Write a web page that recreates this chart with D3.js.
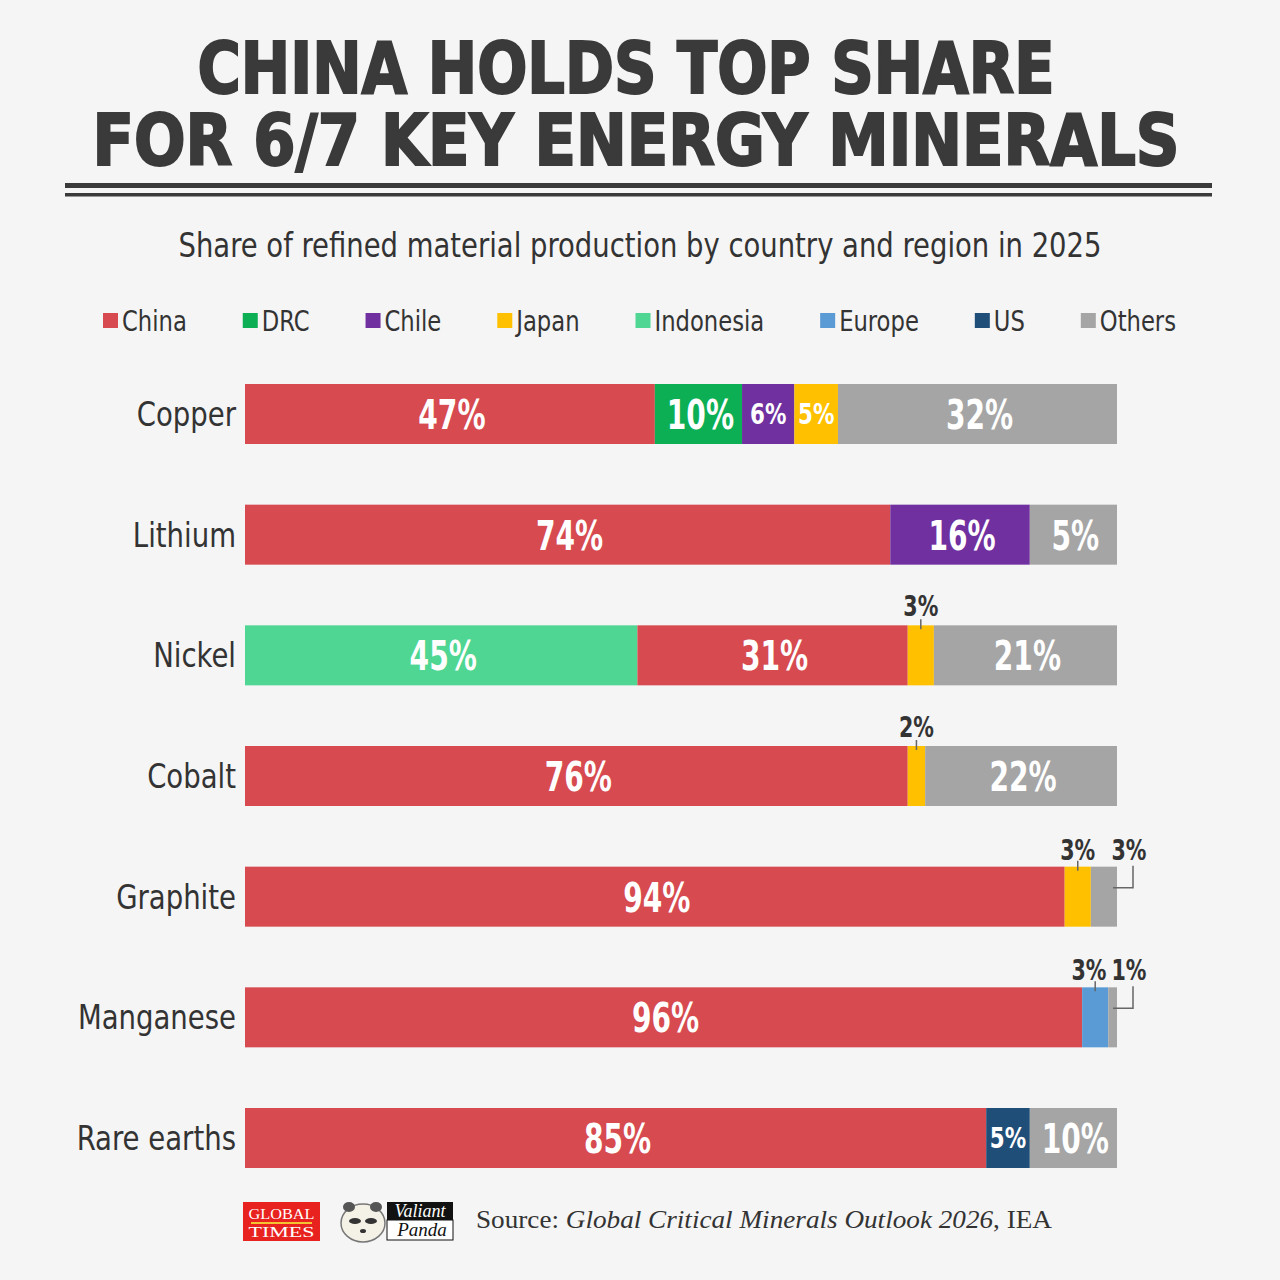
<!doctype html>
<html>
<head>
<meta charset="UTF-8">
<title>China holds top share</title>
<script src="https://cdn.jsdelivr.net/npm/d3@7"></script>
<style>
    body { margin: 0; background: #f5f5f5; }
    .cond { font-family: "DejaVu Sans Condensed", "Liberation Sans Narrow", "DejaVu Sans", sans-serif; font-stretch: condensed; }
    .serif { font-family: "Liberation Serif", "DejaVu Serif", serif; }
</style>
</head>
<body>
<script>
    // data
    var minerals = ["Copper", "Lithium", "Nickel", "Cobalt", "Graphite", "Manganese", "Rare earths"];
    var series = ["China", "DRC", "Chile", "Japan", "Indonesia", "Europe", "US", "Others"];
    var colors = ["#d64a50", "#0daf55", "#7030a0", "#ffc000", "#4fd693", "#5b9bd5", "#1f4e79", "#a5a5a5"];

    // [series, drawn share, printed label if different]
    var copper = [["China", 47], ["DRC", 10], ["Chile", 6], ["Japan", 5], ["Others", 32]];
    var lithium = [["China", 74], ["Chile", 16], ["Others", 10, "5%"]];
    var nickel = [["Indonesia", 45], ["China", 31], ["Japan", 3], ["Others", 21]];
    var cobalt = [["China", 76], ["Japan", 2], ["Others", 22]];
    var graphite = [["China", 94], ["Japan", 3], ["Others", 3]];
    var manganese = [["China", 96], ["Europe", 3], ["Others", 1]];
    var rareEarths = [["China", 85], ["US", 5], ["Others", 10]];
    var rows = [copper, lithium, nickel, cobalt, graphite, manganese, rareEarths];

    var W = 1280, H = 1280;
    var ink = "#333333";

    // narrow a text to look like the condensed face of the original
    var squeeze = function (sel, f) {
        sel.each(function () {
            var w = this.getComputedTextLength();
            d3.select(this).attr("textLength", w * f).attr("lengthAdjust", "spacingAndGlyphs");
        });
        return sel;
    };

    var svg = d3.select("body").append("svg")
        .attr("width", W)
        .attr("height", H)
        .style("display", "block");

    svg.append("rect").attr("width", W).attr("height", H).attr("fill", "#f5f5f5");

    var color = d3.scaleOrdinal().domain(series).range(colors);
    var x = d3.scaleLinear().domain([0, 100]).range([245, 1117]);
    var y = d3.scalePoint().domain(minerals).range([414, 1138]);
    var barH = 60;

    // TITLE
    svg.append("text").attr("class", "cond")
        .attr("x", 626).attr("y", 93)
        .attr("text-anchor", "middle")
        .attr("textLength", 857).attr("lengthAdjust", "spacingAndGlyphs")
        .style("font-size", "71px").style("font-weight", 700)
        .attr("fill", "#3a3a3a").attr("stroke", "#3a3a3a").attr("stroke-width", 2)
        .text("CHINA HOLDS TOP SHARE");
    svg.append("text").attr("class", "cond")
        .attr("x", 636).attr("y", 165)
        .attr("text-anchor", "middle")
        .attr("textLength", 1087).attr("lengthAdjust", "spacingAndGlyphs")
        .style("font-size", "71px").style("font-weight", 700)
        .attr("fill", "#3a3a3a").attr("stroke", "#3a3a3a").attr("stroke-width", 2)
        .text("FOR 6/7 KEY ENERGY MINERALS");

    svg.append("rect").attr("x", 65).attr("y", 183).attr("width", 1147).attr("height", 5).attr("fill", "#3a3a3a");
    svg.append("rect").attr("x", 65).attr("y", 193).attr("width", 1147).attr("height", 3.5).attr("fill", "#3a3a3a");

    svg.append("text").attr("class", "cond")
        .attr("x", 640).attr("y", 257)
        .attr("text-anchor", "middle")
        .attr("textLength", 923).attr("lengthAdjust", "spacingAndGlyphs")
        .style("font-size", "33px").attr("fill", ink)
        .text("Share of refined material production by country and region in 2025");

    // LEGEND
    var legend = svg.append("g");
    var items = legend.selectAll("g").data(series).enter().append("g");
    items.append("rect")
        .attr("y", 313).attr("width", 15).attr("height", 15)
        .attr("fill", function (d) { return color(d); });
    squeeze(items.append("text").attr("class", "cond")
        .attr("x", 19).attr("y", 331)
        .style("font-size", "28px").attr("fill", ink)
        .text(function (d) { return d; }), 0.9);

    var widths = [];
    items.each(function () { widths.push(this.getBBox().width); });
    var totalW = d3.sum(widths);
    var gap = (1176 - 103 - totalW) / (series.length - 1);
    var lx = 103;
    items.attr("transform", function (d, i) {
        var t = "translate(" + lx + ",0)";
        lx += widths[i] + gap;
        return t;
    });

    // CATEGORY LABELS
    squeeze(svg.selectAll(".cat").data(minerals).enter().append("text")
        .attr("class", "cond cat")
        .attr("x", 236)
        .attr("y", function (d) { return y(d) + 12; })
        .attr("text-anchor", "end")
        .style("font-size", "34px").attr("fill", ink)
        .text(function (d) { return d; }), 0.9);

    // BARS
    rows.forEach(function (row, ri) {
        var cy = y(minerals[ri]);
        var top = cy - barH / 2;
        var acc = 0;
        var segs = row.map(function (s, si) {
            var seg = { name: s[0], v: s[1], label: s[2] || (s[1] + "%"), x0: acc, x1: acc + s[1], last: si === row.length - 1 };
            acc += s[1];
            return seg;
        });
        var lastSmall = segs[segs.length - 1].v < 4;
        var elbowX = x(100) + 16;

        var g = svg.append("g");
        g.selectAll("rect").data(segs).enter().append("rect")
            .attr("x", function (d) { return x(d.x0); })
            .attr("y", top)
            .attr("width", function (d) { return x(d.x1) - x(d.x0); })
            .attr("height", barH)
            .attr("fill", function (d) { return color(d.name); });

        segs.forEach(function (d) {
            var mid = (x(d.x0) + x(d.x1)) / 2;
            if (d.v >= 8) {
                squeeze(g.append("text").attr("class", "cond")
                    .attr("x", mid + 2).attr("y", cy + 15)
                    .attr("text-anchor", "middle")
                    .style("font-size", "40px").style("font-weight", 700).attr("fill", "#fff")
                    .text(d.label), 0.78);
            } else if (d.v >= 4) {
                squeeze(g.append("text").attr("class", "cond")
                    .attr("x", mid).attr("y", cy + 10)
                    .attr("text-anchor", "middle")
                    .style("font-size", "28px").style("font-weight", 700).attr("fill", "#fff")
                    .text(d.label), 0.85);
            } else if (d.last) {
                // elbow leader out to the right of the bar
                g.append("path")
                    .attr("d", "M" + (x(d.x1) - 4) + "," + (cy - 9) + "H" + elbowX + "V" + (top - 1))
                    .attr("fill", "none").attr("stroke", "#666").attr("stroke-width", 1.5);
                g.append("text").attr("class", "cond")
                    .attr("x", elbowX - 4).attr("y", top - 7)
                    .attr("text-anchor", "middle")
                    .style("font-size", "29px").style("font-weight", 700).attr("fill", ink)
                    .attr("textLength", 35).attr("lengthAdjust", "spacingAndGlyphs")
                    .text(d.label);
            } else {
                var lx2 = lastSmall ? Math.min(mid, elbowX - 44) : mid;
                g.append("line")
                    .attr("x1", mid).attr("x2", mid)
                    .attr("y1", top - 6).attr("y2", top + 4)
                    .attr("stroke", "#666").attr("stroke-width", 1.5);
                g.append("text").attr("class", "cond")
                    .attr("x", lx2).attr("y", lastSmall ? top - 7 : top - 9)
                    .attr("text-anchor", "middle")
                    .style("font-size", "29px").style("font-weight", 700).attr("fill", ink)
                    .attr("textLength", 35).attr("lengthAdjust", "spacingAndGlyphs")
                    .text(d.label);
            }
        });
    });

    // FOOTER
    var gt = svg.append("g").attr("transform", "translate(243,1202)");
    gt.append("rect").attr("width", 77).attr("height", 39).attr("fill", "#e8231f");
    gt.append("text").attr("class", "serif").attr("x", 38.5).attr("y", 17)
        .attr("text-anchor", "middle").style("font-size", "15px").attr("fill", "#fff")
        .attr("textLength", 66).attr("lengthAdjust", "spacingAndGlyphs").text("GLOBAL");
    gt.append("rect").attr("x", 8).attr("y", 20).attr("width", 61).attr("height", 2).attr("fill", "#f3c332");
    gt.append("text").attr("class", "serif").attr("x", 38.5).attr("y", 35)
        .attr("text-anchor", "middle").style("font-size", "15px").attr("fill", "#fff")
        .attr("textLength", 66).attr("lengthAdjust", "spacingAndGlyphs").text("TIMES");

    var pd = svg.append("g").attr("transform", "translate(340,1200)");
    pd.append("ellipse").attr("cx", 23).attr("cy", 23).attr("rx", 22).attr("ry", 19)
        .attr("fill", "#f4f1e6").attr("stroke", "#777").attr("stroke-width", 1.5);
    pd.append("ellipse").attr("cx", 9).attr("cy", 7).attr("rx", 6).attr("ry", 5).attr("fill", "#555");
    pd.append("ellipse").attr("cx", 36).attr("cy", 7).attr("rx", 6).attr("ry", 5).attr("fill", "#555");
    pd.append("ellipse").attr("cx", 15).attr("cy", 21).attr("rx", 6).attr("ry", 3).attr("fill", "#333");
    pd.append("ellipse").attr("cx", 31).attr("cy", 21).attr("rx", 6).attr("ry", 3).attr("fill", "#333");
    pd.append("ellipse").attr("cx", 23).attr("cy", 31).attr("rx", 3).attr("ry", 2).attr("fill", "#333");
    pd.append("rect").attr("x", 47).attr("y", 2).attr("width", 66).attr("height", 18).attr("fill", "#111");
    pd.append("text").attr("class", "serif").attr("x", 80).attr("y", 17)
        .attr("text-anchor", "middle").style("font-size", "18px").style("font-style", "italic").attr("fill", "#fff")
        .text("Valiant");
    pd.append("rect").attr("x", 47).attr("y", 20).attr("width", 66).attr("height", 20)
        .attr("fill", "#fff").attr("stroke", "#111").attr("stroke-width", 1);
    pd.append("text").attr("class", "serif").attr("x", 82).attr("y", 36)
        .attr("text-anchor", "middle").style("font-size", "19px").style("font-style", "italic").attr("fill", "#111")
        .text("Panda");

    var src = svg.append("text").attr("class", "serif")
        .attr("x", 476).attr("y", 1228)
        .attr("textLength", 576).attr("lengthAdjust", "spacingAndGlyphs")
        .style("font-size", "26px").attr("fill", ink);
    src.append("tspan").text("Source: ");
    src.append("tspan").style("font-style", "italic").text("Global Critical Minerals Outlook 2026");
    src.append("tspan").text(", IEA");
</script>
</body>
</html>
